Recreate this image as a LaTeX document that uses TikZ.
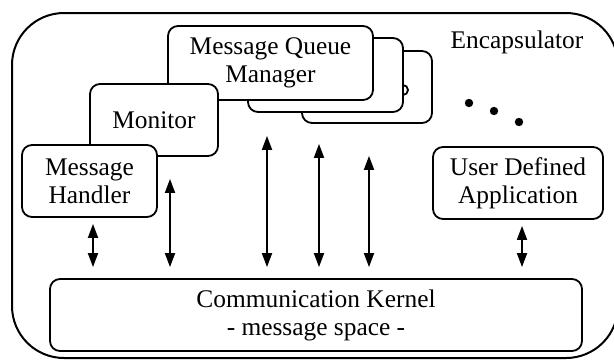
\documentclass[tikz,border=0pt]{standalone}
\usepackage{fontspec}
\setmainfont{Liberation Serif}
\usetikzlibrary{arrows.meta}
\begin{document}
\begin{tikzpicture}[x=0.5pt,y=-0.5pt,
  txt/.style={font=\fontsize{12.7}{14}\selectfont, align=center, inner sep=0pt},
  box/.style={txt, draw, fill=white, line width=0.9pt, rounded corners=5pt},
  dbl/.style={line width=0.9pt, {Triangle[length=7pt,width=5pt]}-{Triangle[length=7pt,width=5pt]}},
  dotst/.style={circle, fill, inner sep=0pt, minimum size=4.2pt}]
\clip (0,0) rectangle (614,360);
% outer encapsulator
\node[draw, line width=1pt, rounded corners=26pt, minimum width=303pt, minimum height=172.5pt, inner sep=0pt] (encap) at (315,185.5) {};
\node[txt] (enclabel) at (517,42) {Encapsulator};
% message queue manager stack
\node[box, minimum width=65pt, minimum height=36pt] (mqm3) at (367,87) {};
\draw[line width=0.9pt] (403,85) arc[start angle=90, end angle=-90, radius=2.5pt];
\node[box, minimum width=77.5pt, minimum height=37pt] (mqm2) at (325.5,75) {};
\node[box, minimum width=102.5pt, minimum height=37pt] (mqm1) at (270.5,63) {Message Queue\\Manager};
% monitor and handler
\node[box, minimum width=64pt, minimum height=36pt] (monitor) at (154,120) {Monitor};
\node[box, minimum width=67.5pt, minimum height=36pt] (handler) at (89.5,181) {Message\\Handler};
% user app
\node[box, minimum width=85pt, minimum height=36pt] (user) at (518,183) {User Defined\\Application};
% kernel
\node[box, minimum width=266pt, minimum height=36pt] (kernel) at (316,315) {Communication Kernel\\- message space -};
% dots
\node[dotst] (d1) at (469,103) {};
\node[dotst] (d2) at (494,111) {};
\node[dotst] (d3) at (519,122) {};
% arrows
\draw[dbl, shorten <=3pt, shorten >=5.5pt] ([xshift=1.75pt]handler.south) -- ([xshift=1.75pt]handler.south |- kernel.north);
\draw[dbl, shorten <=11pt, shorten >=5.5pt] ([xshift=8pt]monitor.south) -- ([xshift=8pt]monitor.south |- kernel.north);
\draw[dbl, shorten <=17.5pt, shorten >=5.5pt] ([xshift=-1.75pt]mqm1.south) -- ([xshift=-1.75pt]mqm1.south |- kernel.north);
\draw[dbl, shorten <=15.5pt, shorten >=5.5pt] ([xshift=-3.25pt]mqm2.south) -- ([xshift=-3.25pt]mqm2.south |- kernel.north);
\draw[dbl, shorten <=16pt, shorten >=5.5pt] ([xshift=1pt]mqm3.south) -- ([xshift=1pt]mqm3.south |- kernel.north);
\draw[dbl, shorten <=3pt, shorten >=5.5pt] ([xshift=2pt]user.south) -- ([xshift=2pt]user.south |- kernel.north);
\end{tikzpicture}
\end{document}
